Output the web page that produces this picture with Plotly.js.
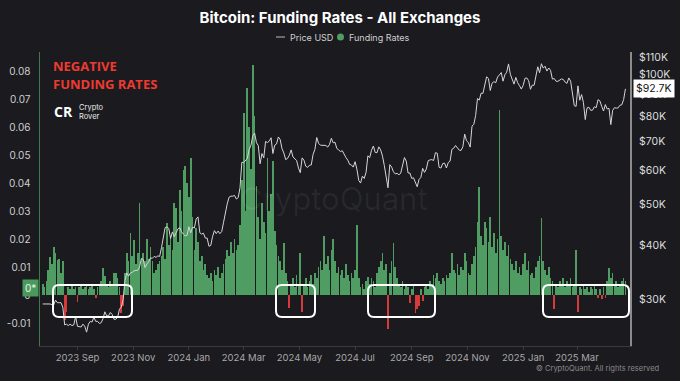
<!DOCTYPE html>
<html>
<head>
<meta charset="utf-8">
<script src="https://cdn.plot.ly/plotly-3.0.1.min.js"></script>
<style>
html,body{margin:0;padding:0;background:#1a1a1f;}
#chart{width:680px;height:381px;}
</style>
</head>
<body>
<div id="chart"></div>
<script>
// ---- DATA (2-day sampling, starting 2023-07-25) ----
const startDate = '2023-07-25';
const stepDays = 2;

const fundingRates = [
  0.004, 0.003, 0.005, 0.009, 0.0136, 0.011, 0.017, 0.015, 0.0125, 0.013,
  0.008, 0.012, -0.009, -0.006, 0.003, 0.002, 0.004, 0.002, 0.003, -0.0025,
  0.003, 0.004, 0.002, 0.003, 0.004, 0.002, 0.003, 0.004, 0.002, -0.001,
  0.003, 0.004, 0.005, 0.0096, 0.0067, 0.004, 0.003, 0.005, 0.004, 0.008,
  0.008, 0.006, 0.003, -0.0065, -0.004, 0.008, 0.015, 0.012, 0.022, 0.014,
  0.0196, 0.011, 0.015, 0.033, 0.013, 0.015, 0.012, 0.02, 0.013, 0.017,
  0.012, 0.008, 0.009, 0.011, 0.012, 0.014, 0.017, 0.013, 0.0257, 0.018,
  0.021, 0.016, 0.033, 0.031, 0.019, 0.0375, 0.03, 0.0446, 0.046, 0.04,
  0.035, 0.049, 0.028, 0.016, 0.024, 0.019, 0.012, 0.014, 0.009, 0.011,
  0.007, 0.006, 0.008, 0.005, 0.009, 0.007, 0.01, 0.006, 0.008, 0.011,
  0.013, 0.016, 0.014, 0.019, 0.015, 0.02, 0.016, 0.018, 0.025, 0.041,
  0.065, 0.03, 0.074, 0.06, 0.045, 0.082, 0.064, 0.039, 0.028, 0.02,
  0.033, 0.026, 0.022, 0.049, 0.03, 0.036, 0.048, 0.023, 0.018, 0.014,
  0.012, 0.009, 0.0186, 0.008, 0.005, -0.0046, 0.004, 0.006, 0.003, 0.007,
  0.004, 0.015, -0.006, 0.004, 0.006, 0.003, 0.005, 0.007, 0.004, 0.008,
  0.006, 0.01, 0.012, 0.009, 0.021, 0.011, 0.014, 0.009, 0.016, 0.02,
  0.012, 0.008, 0.01, 0.007, 0.009, 0.006, 0.011, 0.007, 0.005, 0.008,
  0.006, 0.009, 0.025, 0.006, 0.003, 0.004, 0.002, 0.005, 0.0065, 0.004,
  0.006, 0.005, 0.003, 0.008, 0.01, 0.012, 0.015, 0.009, 0.011, -0.012,
  0.008, 0.012, 0.0186, 0.01, 0.006, 0.004, 0.003, 0.005, 0.002, 0.004,
  0.003, -0.003, 0.002, 0.004, -0.0065, -0.005, -0.004, 0.002, -0.002, 0.003,
  0.004, 0.002, 0.005, 0.004, 0.007, 0.006, 0.008, 0.005, 0.004, 0.006,
  0.005, 0.007, 0.006, 0.008, 0.015, 0.009, 0.008, 0.011, 0.007, 0.01,
  0.009, 0.015, 0.012, 0.008, 0.007, 0.011, 0.014, 0.017, 0.026, 0.0386,
  0.021, 0.018, 0.026, 0.024, 0.019, 0.028, 0.017, 0.022, 0.015, 0.02,
  0.066, 0.021, 0.016, 0.019, 0.014, 0.018, 0.013, 0.011, 0.009, 0.012,
  0.008, 0.01, 0.007, 0.011, 0.015, 0.009, 0.012, 0.007, 0.008, 0.006,
  0.01, 0.012, 0.014, 0.0275, 0.012, 0.009, 0.007, 0.01, 0.006, 0.005,
  -0.005, 0.004, 0.003, 0.005, 0.004, 0.006, 0.003, 0.005, 0.004, 0.006,
  0.003, 0.004, 0.016, -0.006, 0.003, 0.002, 0.004, 0.002, 0.003, 0.001,
  0.003, 0.002, 0.004, 0.002, -0.001, 0.002, -0.0015, 0.003, -0.001, 0.005,
  0.0097, 0.006, 0.008, 0.004, 0.005, 0.003, 0.004, 0.005, 0.006, 0.005
];

// BTC price in thousands of USD
const priceK = [
  29.2, 29.2, 29.3, 29.2, 29.2, 29.1, 29.05, 29.8, 29.4, 29.4,
  29.4, 28.7, 26.1, 26.2, 26.0, 26.2, 26.0, 26.1, 27.3, 25.9,
  25.9, 25.8, 26.2, 25.9, 25.1, 26.2, 26.6, 26.5, 27.2, 26.6,
  26.6, 26.3, 26.4, 27.0, 28.0, 27.4, 27.4, 27.9, 27.6, 26.9,
  26.9, 27.2, 28.4, 28.7, 29.9, 33.1, 34.5, 33.9, 34.5, 34.6,
  34.9, 35.0, 35.0, 35.6, 37.3, 37.1, 35.5, 36.2, 36.6, 37.4,
  37.3, 37.7, 37.5, 37.8, 37.7, 39.5, 42.0, 44.0, 44.2, 43.8,
  41.5, 43.0, 41.9, 42.7, 43.7, 44.0, 43.0, 42.5, 42.1, 42.2,
  44.2, 42.8, 44.1, 43.9, 46.1, 46.6, 42.8, 42.5, 42.7, 41.6,
  41.6, 39.8, 40.0, 42.0, 43.3, 42.6, 43.2, 42.6, 43.1, 45.3,
  47.8, 50.0, 51.8, 52.1, 52.1, 52.3, 51.3, 51.7, 54.5, 62.5,
  62.4, 63.1, 63.8, 66.9, 68.5, 72.1, 73.1, 69.4, 68.4, 62.0,
  65.5, 64.0, 69.9, 69.5, 70.0, 71.3, 65.5, 68.5, 69.0, 71.6,
  70.6, 67.2, 65.7, 63.4, 63.8, 64.9, 66.8, 64.3, 63.8, 63.1,
  60.6, 59.1, 64.0, 63.2, 61.2, 60.8, 61.5, 61.6, 65.2, 67.0,
  71.4, 69.2, 68.5, 68.5, 68.4, 68.4, 67.8, 68.8, 71.1, 69.4,
  69.6, 67.3, 66.8, 66.2, 66.5, 65.0, 64.1, 63.2, 61.8, 61.6,
  60.9, 62.7, 60.2, 56.7, 55.9, 58.0, 57.3, 59.2, 64.7, 64.1,
  66.7, 68.2, 65.9, 65.8, 67.9, 66.8, 64.6, 61.4, 58.1, 54.5,
  61.7, 60.9, 59.4, 58.7, 58.9, 58.4, 59.0, 61.2, 64.1, 62.9,
  59.0, 59.0, 57.3, 57.5, 56.1, 54.8, 57.0, 57.6, 60.5, 59.2,
  60.3, 63.0, 63.3, 63.4, 63.1, 65.8, 65.6, 60.8, 60.6, 62.1,
  62.2, 60.6, 62.4, 62.9, 67.0, 67.4, 68.4, 67.4, 66.7, 66.6,
  67.9, 72.7, 70.2, 69.5, 67.8, 75.9, 76.6, 80.4, 88.0, 87.3,
  90.6, 90.5, 94.3, 98.9, 98.0, 91.9, 95.6, 96.4, 95.8, 98.8,
  99.9, 101.2, 96.6, 100.0, 101.4, 106.0, 100.2, 97.2, 95.1, 98.6,
  95.8, 94.3, 92.6, 94.4, 98.1, 98.3, 96.9, 92.5, 94.6, 94.5,
  100.5, 104.4, 101.1, 106.1, 103.6, 104.7, 102.0, 103.7, 102.4, 97.7,
  98.0, 96.6, 96.5, 97.4, 97.8, 97.5, 96.1, 95.5, 98.3, 96.6,
  91.4, 84.7, 84.4, 94.2, 87.2, 89.9, 86.2, 78.6, 83.7, 84.0,
  82.6, 82.7, 84.2, 83.8, 87.5, 86.9, 84.4, 82.3, 85.2, 83.2,
  83.5, 76.5, 82.6, 83.8, 83.6, 83.7, 84.9, 85.1, 87.5, 92.7
];

const xTickVals = ['2023-09-01','2023-11-01','2024-01-01','2024-03-01','2024-05-01','2024-07-01','2024-09-01','2024-11-01','2025-01-01','2025-03-01'];
const xTickText = ['2023 Sep','2023 Nov','2024 Jan','2024 Mar','2024 May','2024 Jul','2024 Sep','2024 Nov','2025 Jan','2025 Mar'];
const yTickVals = [-0.01, 0, 0.01, 0.02, 0.03, 0.04, 0.05, 0.06, 0.07, 0.08];
const yTickText = ['-0.01', '0', '0.01', '0.02', '0.03', '0.04', '0.05', '0.06', '0.07', '0.08'];
const priceTickVals = [30000, 40000, 50000, 60000, 70000, 80000, 90000, 100000, 110000];
const priceTickText = ['$30K', '$40K', '$50K', '$60K', '$70K', '$80K', '$90K', '$100K', '$110K'];

// ---- BUILD ----
const DAY = 86400000;
const t0 = Date.parse(startDate + 'T00:00:00Z');
const dates = fundingRates.map((_, i) => new Date(t0 + i * stepDays * DAY).toISOString().slice(0, 10));
const priceUSD = priceK.map(v => v * 1000);

const GREEN = '#4f9d63';
const RED = '#d8393a';
const BG = '#1a1a1f';

const barTrace = {
  type: 'bar',
  x: dates,
  y: fundingRates,
  width: stepDays * DAY * 0.92,
  marker: { color: fundingRates.map(v => v >= 0 ? GREEN : RED), line: { width: 0 } },
  name: 'Funding Rates',
  hoverinfo: 'skip',
  yaxis: 'y'
};
const priceTrace = {
  type: 'scatter',
  mode: 'lines',
  x: dates,
  y: priceUSD,
  line: { color: '#d6d6d6', width: 1 },
  name: 'Price USD',
  hoverinfo: 'skip',
  yaxis: 'y2'
};

// plot area geometry (px)
const W = 680, H = 381, ML = 40, MR = 50, MT = 52, MB = 35;
const PW = W - ML - MR, PH = H - MT - MB;
const px = x => (x - ML) / PW;
const py = y => (H - MB - y) / PH;

function roundBox(x0, x1, y0, y1, r) {
  const P = (x, y) => px(x).toFixed(5) + ',' + py(y).toFixed(5);
  return 'M' + P(x0 + r, y0) + ' L' + P(x1 - r, y0) + ' Q' + P(x1, y0) + ' ' + P(x1, y0 + r) +
    ' L' + P(x1, y1 - r) + ' Q' + P(x1, y1) + ' ' + P(x1 - r, y1) +
    ' L' + P(x0 + r, y1) + ' Q' + P(x0, y1) + ' ' + P(x0, y1 - r) +
    ' L' + P(x0, y0 + r) + ' Q' + P(x0, y0) + ' ' + P(x0 + r, y0) + ' Z';
}

const boxes = [[53, 132], [276, 315], [368, 435], [543, 629]];
const shapes = boxes.map(b => ({
  type: 'path', xref: 'paper', yref: 'paper',
  path: roundBox(b[0], b[1], 285, 317, 6),
  line: { color: '#ffffff', width: 2 }, fillcolor: 'rgba(0,0,0,0)', layer: 'above'
}));
// legend marks
shapes.push({ type: 'line', xref: 'paper', yref: 'paper', x0: px(276), x1: px(285), y0: py(37), y1: py(37), line: { color: '#bbbbbb', width: 1 } });
shapes.push({ type: 'circle', xref: 'paper', yref: 'paper', x0: px(337), x1: px(344), y0: py(33.5), y1: py(40.5), line: { width: 0 }, fillcolor: GREEN });

const FONT = 'Inter, "Open Sans", "DejaVu Sans", sans-serif';
const lastPrice = priceUSD[priceUSD.length - 1];

const annotations = [
  { xref: 'paper', yref: 'paper', x: px(288), y: py(37), xanchor: 'left', yanchor: 'middle', text: 'Price USD', showarrow: false, font: { family: FONT, size: 9, color: '#cfcfcf' } },
  { xref: 'paper', yref: 'paper', x: px(347), y: py(37), xanchor: 'left', yanchor: 'middle', text: 'Funding Rates', showarrow: false, font: { family: FONT, size: 9, color: '#cfcfcf' } },
  { xref: 'paper', yref: 'paper', x: px(51), y: py(66), xanchor: 'left', yanchor: 'middle', text: '<b>NEGATIVE</b>', showarrow: false, font: { family: '"Open Sans", sans-serif', size: 13, color: '#ee3a30' } },
  { xref: 'paper', yref: 'paper', x: px(51), y: py(84), xanchor: 'left', yanchor: 'middle', text: '<b>FUNDING RATES</b>', showarrow: false, font: { family: '"Open Sans", sans-serif', size: 13, color: '#ee3a30' } },
  { xref: 'paper', yref: 'paper', x: px(52), y: py(111), xanchor: 'left', yanchor: 'middle', text: '<b>CR</b>', showarrow: false, font: { family: '"Open Sans", sans-serif', size: 14, color: '#ffffff' } },
  { xref: 'paper', yref: 'paper', x: px(77), y: py(107), xanchor: 'left', yanchor: 'middle', text: 'Crypto', showarrow: false, font: { family: FONT, size: 7.5, color: '#e8e8e8' } },
  { xref: 'paper', yref: 'paper', x: px(77), y: py(116), xanchor: 'left', yanchor: 'middle', text: 'Rover', showarrow: false, font: { family: FONT, size: 7.5, color: '#e8e8e8' } },
  { xref: 'paper', yref: 'paper', x: px(334), y: py(198), xanchor: 'center', yanchor: 'middle', text: 'CryptoQuant', showarrow: false, font: { family: FONT, size: 31, color: 'rgba(255,255,255,0.06)' } },
  { xref: 'paper', yref: 'paper', x: px(661), y: py(368), xanchor: 'right', yanchor: 'middle', text: '© CryptoQuant. All rights reserved', showarrow: false, font: { family: FONT, size: 7.5, color: '#8a8a8a' } },
  { xref: 'paper', yref: 'y2', x: px(633), y: Math.log10(lastPrice), xanchor: 'left', yanchor: 'middle', text: '$' + (lastPrice / 1000).toFixed(1) + 'K', showarrow: false, bgcolor: '#ffffff', borderpad: 2, font: { family: FONT, size: 10.5, color: '#111111' } },
  { xref: 'paper', yref: 'y', x: px(39), y: 0.0025, xanchor: 'right', yanchor: 'middle', text: '0*', showarrow: false, bgcolor: '#4a9a5e', borderpad: 2, font: { family: FONT, size: 10, color: '#e8f5ea' } }
];

const layout = {
  width: W, height: H,
  margin: { l: ML, r: MR, t: MT, b: MB, pad: 0 },
  paper_bgcolor: BG, plot_bgcolor: BG,
  showlegend: false,
  bargap: 0,
  title: { text: '<b>Bitcoin: Funding Rates - All Exchanges</b>', x: 0.5, xanchor: 'center', y: 1 - 18 / H, yanchor: 'middle', yref: 'container', font: { family: FONT, size: 15, color: '#ffffff' } },
  xaxis: {
    type: 'date', range: ['2023-07-22', '2025-04-28'],
    tickvals: xTickVals, ticktext: xTickText,
    showgrid: false, zeroline: false,
    showline: true, linecolor: '#3a3a40', linewidth: 1,
    ticks: 'outside', ticklen: 3, tickcolor: '#3a3a40',
    tickfont: { family: FONT, size: 9.5, color: '#a8a8a8' }
  },
  yaxis: {
    range: [-0.0182, 0.0868],
    tickvals: yTickVals, ticktext: yTickText,
    showgrid: false, zeroline: false,
    showline: true, linecolor: '#3e7a4c', linewidth: 1.5,
    ticks: '', ticklabelstandoff: 6,
    tickfont: { family: FONT, size: 10, color: '#cfcfcf' }
  },
  yaxis2: {
    type: 'log', overlaying: 'y', side: 'right',
    range: [Math.log10(23300), Math.log10(113000)],
    tickvals: priceTickVals, ticktext: priceTickText,
    showgrid: false, zeroline: false,
    showline: true, linecolor: '#8c8c8c', linewidth: 2,
    ticks: '', ticklabelstandoff: 5,
    tickfont: { family: FONT, size: 10.5, color: '#dddddd' }
  },
  shapes: shapes,
  annotations: annotations
};

Plotly.newPlot('chart', [barTrace, priceTrace], layout, { staticPlot: true, displayModeBar: false });
</script>
</body>
</html>
